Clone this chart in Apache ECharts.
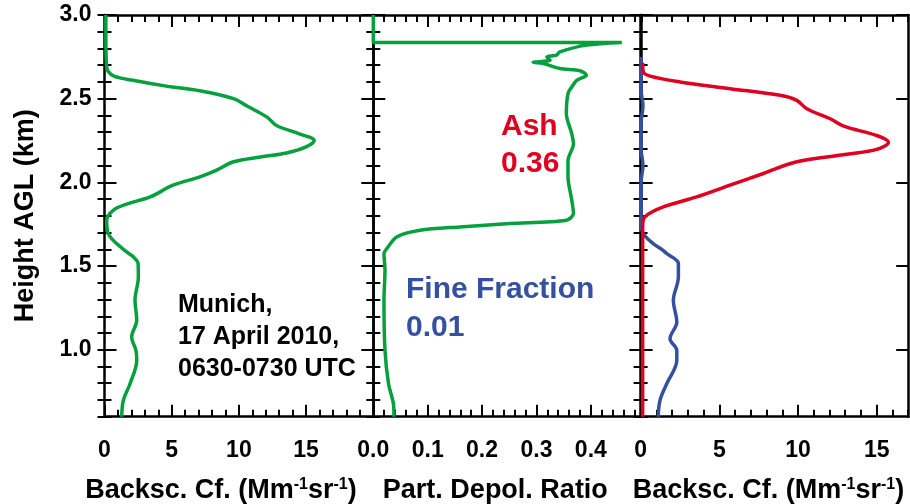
<!DOCTYPE html>
<html><head><meta charset="utf-8">
<script src="https://cdn.jsdelivr.net/npm/echarts@6/dist/echarts.min.js"></script>
<style>html,body{margin:0;padding:0;background:#fff}#c{width:910px;height:504px}</style>
</head><body><div id="c"></div>
<script>
// ---- data (value, height in km) ----
const totalBsc   = [0.1,0.1,0.15,0.25,0.7,2.1,4.6,7.1,9.6,10.6,12.1,12.8,14.5,15.6,15.0,13.55,11.6,9.6,8.35,7.1,5.1,3.4,1.65,0.65,0.16,0.28,1.4,2.14,2.5,2.52,2.27,2.4,2.02,2.34,2.4,1.9,1.4,1.28];
const totalH     = [3.0,2.85,2.70,2.665,2.635,2.61,2.575,2.547,2.50,2.456,2.39,2.34,2.29,2.25,2.212,2.176,2.152,2.123,2.073,2.033,1.983,1.913,1.87,1.833,1.774,1.694,1.6,1.555,1.515,1.435,1.295,1.176,1.076,0.996,0.937,0.797,0.697,0.6];
const depol      = [0,0,0.457,0.392,0.343,0.337,0.319,0.325,0.294,0.3125,0.343,0.38,0.392,0.374,0.365,0.358,0.355,0.365,0.368,0.358,0.358,0.365,0.368,0.355,0.251,0.159,0.086,0.043,0.025,0.0196,0.0215,0.0196,0.0215,0.028,0.037,0.038];
const depolH     = [3.0,2.836,2.836,2.82,2.78,2.76,2.75,2.73,2.717,2.71,2.68,2.667,2.64,2.61,2.57,2.53,2.41,2.29,2.23,2.13,2.033,1.893,1.814,1.774,1.754,1.734,1.714,1.674,1.605,1.575,1.475,1.295,0.996,0.797,0.677,0.6];
const ashBsc     = [0.13,0.17,0.6,2.5,5.68,8.86,9.92,10.56,12.04,12.9,15.0,15.75,15.0,13.1,9.92,7.8,5.68,3.57,1.44,0.28,0.13,0.13];
const ashH       = [2.715,2.66,2.635,2.6,2.56,2.52,2.49,2.44,2.38,2.336,2.28,2.24,2.197,2.168,2.123,2.053,1.983,1.913,1.853,1.794,1.734,0.6];
const fineBsc    = [0.03,0.03,0.15,0.03,0.03,0.15,0.03,0.03,0.17,0.8,1.34,1.66,2.4,2.4,2.08,2.3,1.87,2.3,2.3,1.66,1.23,1.12];
const fineH      = [2.75,2.55,2.46,2.35,2.2,2.1,2.0,1.75,1.694,1.634,1.6,1.575,1.515,1.435,1.295,1.166,1.066,0.996,0.937,0.797,0.697,0.6];
// ---- tick labels ----
const yTickLabels = [1.0,1.5,2.0,2.5,3.0];
const bscTickLabels = [0,5,10,15];
const depolTickLabels = [0.0,0.1,0.2,0.3,0.4];

const FONT = 'Liberation Sans, Arial, Helvetica, sans-serif';
const GREEN = '#06a03e', RED = '#e0001f', BLUE = '#34509f';
const pair = (xs, ys) => xs.map((v,i)=>[v, ys[i]]);

const grids = [
  {left:104.5, top:15, width:268.8, height:401.7, outerBoundsMode:'none', containLabel:false},
  {left:373.3, top:15, width:268.1, height:401.7, outerBoundsMode:'none', containLabel:false},
  {left:640.6, top:15, width:267.6, height:401.7, outerBoundsMode:'none', containLabel:false}
];
const xRange = [[0,20],[0,0.493],[0,17]];
const xMinor = [1, 0.02, 1];
const xMajors = [[0,5,10,15,20],[0,0.1,0.2,0.3,0.4],[0,5,10,15]];
const xLabels = [bscTickLabels, depolTickLabels, bscTickLabels];
const xFmt = [v=>String(v), v=>v.toFixed(1), v=>String(v)];
const nameRich = {s:{fontSize:16, fontWeight:'bold', color:'#000', fontFamily:FONT, verticalAlign:'top'}};
const bscName = 'Backsc. Cf. (Mm{s|-1}sr{s|-1})';
const xNames = [bscName, 'Part. Depol. Ratio', bscName];
const xNamePad = [[0,36,0,0],[0,24,0,0],[0,12,0,0]];

const lineSt = {color:'#000', width:2.5};
const tickSt = {color:'#000', width:2};
const xAxis = [], yAxis = [];
for (let g=0; g<3; g++){
  const [mn,mx] = xRange[g];
  for (const pos of ['bottom','top']){
    xAxis.push({type:'value', gridIndex:g, position:pos, min:mn, max:mx,
      axisLine:{show:true, onZero:false, lineStyle:lineSt},
      axisTick:{show:true, inside:true, length:12, lineStyle:tickSt, customValues:xMajors[g]},
      axisLabel:{show:pos==='bottom', customValues:xLabels[g], formatter:xFmt[g], margin:22,
        fontSize:23, fontWeight:'bold', color:'#000', fontFamily:FONT},
      splitLine:{show:false},
      name: pos==='bottom' ? xNames[g] : '', nameLocation:'middle', nameGap:60,
      nameTextStyle:{fontSize:27, fontWeight:'bold', color:'#000', fontFamily:FONT, rich:nameRich, padding:xNamePad[g]}
    });
    xAxis.push({type:'value', gridIndex:g, position:pos, min:mn, max:mx, interval:xMinor[g],
      axisLine:{show:false}, axisTick:{show:true, inside:true, length:7, lineStyle:tickSt},
      axisLabel:{show:false}, splitLine:{show:false}});
  }
  for (const pos of ['left','right']){
    yAxis.push({type:'value', gridIndex:g, position:pos, min:0.6, max:3.0,
      axisLine:{show:true, onZero:false, lineStyle:lineSt},
      axisTick:{show:true, inside:true, length:12, lineStyle:tickSt, customValues:yTickLabels},
      axisLabel:{show:(g===0 && pos==='left'), customValues:yTickLabels, formatter:v=>v.toFixed(1), margin:13,
        fontSize:23, fontWeight:'bold', color:'#000', fontFamily:FONT},
      splitLine:{show:false},
      name:(g===0 && pos==='left') ? 'Height AGL (km)' : '', nameLocation:'middle', nameGap:65,
      nameTextStyle:{fontSize:27, fontWeight:'bold', color:'#000', fontFamily:FONT}
    });
    yAxis.push({type:'value', gridIndex:g, position:pos, min:0.6, max:3.0, interval:0.1,
      axisLine:{show:false}, axisTick:{show:true, inside:true, length:7, lineStyle:tickSt},
      axisLabel:{show:false}, splitLine:{show:false}});
  }
}

const mk = (name, data, g, color, smooth) => ({
  type:'line', name, data, xAxisIndex:g*4, yAxisIndex:g*4, showSymbol:false, symbol:'none',
  smooth, lineStyle:{color, width:3.5}, itemStyle:{color}, z:3, animation:false
});

const chart = echarts.init(document.getElementById('c'), null, {renderer:'canvas'});
chart.setOption({
  animation:false,
  grid: grids,
  xAxis, yAxis,
  series:[
    mk('Total', pair(totalBsc, totalH), 0, GREEN, 0.35),
    mk('Depol', pair(depol, depolH), 1, GREEN, 0.3),
    mk('Fine Fraction', pair(fineBsc, fineH), 2, BLUE, 0.35),
    mk('Ash', pair(ashBsc, ashH), 2, RED, 0.35)
  ],
  graphic:[
    {type:'text', left:178, top:289, z:10, style:{text:'Munich,\n17 April 2010,\n0630-0730 UTC', fontSize:25, fontWeight:'bold', lineHeight:32, fill:'#000', fontFamily:FONT}},
    {type:'text', left:501, top:108, z:10, style:{text:'Ash\n0.36', fontSize:30, fontWeight:'bold', lineHeight:37, fill:RED, fontFamily:FONT}},
    {type:'text', left:406, top:271, z:10, style:{text:'Fine Fraction\n0.01', fontSize:30, fontWeight:'bold', lineHeight:38, fill:BLUE, fontFamily:FONT}}
  ]
});
</script></body></html>
